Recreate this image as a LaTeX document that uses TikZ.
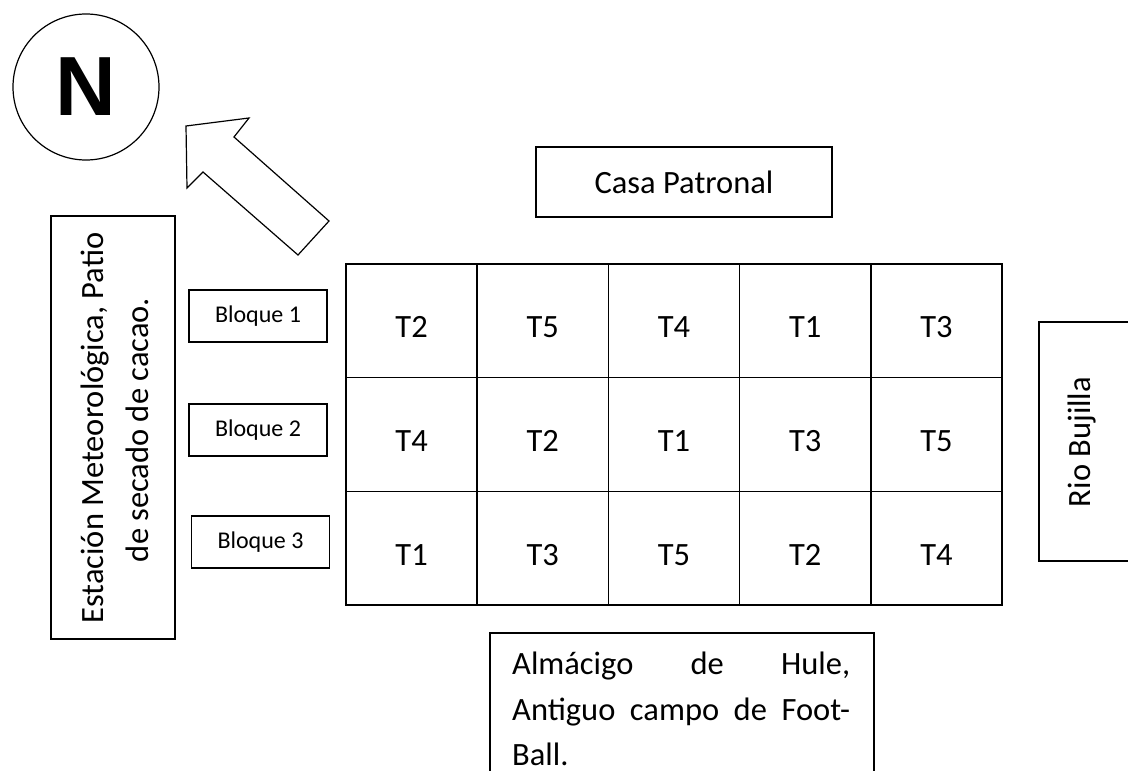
\documentclass[tikz,border=0pt]{standalone}
\usepackage{fontspec}
\setmainfont{Carlito}
\newfontfamily\arialfont{Liberation Sans}

\tikzset{
  box/.style={draw, line width=1.3pt},
  tag/.style={font=\fontsize{32.5}{38}\selectfont, inner sep=0pt},
  blocktag/.style={font=\fontsize{24}{28}\selectfont},
}

\begin{document}
\begin{tikzpicture}[x=1pt, y=-1pt]
    \useasboundingbox (0,0) rectangle (1128,771);

    % north mark and arrow
    \node[draw, circle, line width=1.2pt, minimum size=146pt, inner sep=0pt,
          font=\arialfont\bfseries\fontsize{84}{84}\selectfont] (north) at (86,87) {N};
    \draw[line width=1.2pt, line join=miter] (186,126) -- (249,118) -- (234,137) -- (329,221)
        -- (298,255) -- (203,172) -- (187,188) -- cycle;

    % buildings around the field
    \node[box, minimum width=296pt, minimum height=70pt, tag] (casa) at (684,182) {Casa Patronal};
    \draw[box] (51,216) rectangle (175,639);
    \node[tag, rotate=90, anchor=base] (estacionA) at (103,428) {Estación Meteorológica, Patio};
    \node[tag, rotate=90, anchor=base] (estacionB) at (148,430) {de secado de cacao.};
    \draw[box] (1140,322) -- (1039,322) -- (1039,561) -- (1140,561);
    \node[tag, rotate=90, anchor=base] (rio) at (1090,442) {Rio Bujilla};
    \draw[box] (490,790) -- (490,633) -- (874,633) -- (874,790);
    \node[tag, anchor=base west] (alm1) at (512,674) {\makebox[338pt][s]{Almácigo de Hule,}};
    \node[tag, anchor=base west] (alm2) at (512,720) {\makebox[338pt][s]{Antiguo campo de Foot-}};
    \node[tag, anchor=base west] (alm3) at (512,765) {Ball.};

    % blocks
    \node[box, minimum width=138pt, minimum height=52pt, blocktag] (b1) at (258,316) {Bloque 1};
    \node[box, minimum width=138pt, minimum height=52pt, blocktag] (b2) at (258,430) {Bloque 2};
    \node[box, minimum width=138pt, minimum height=52pt, blocktag] (b3) at (260.5,542) {Bloque 3};

    % plots
    \foreach \k in {0,...,5}
        \draw[line width=1.6pt] ({346+131.2*\k},264) -- ({346+131.2*\k},605);
    \foreach \k in {0,...,3}
        \draw[line width=1.6pt] (345,{264+113.67*\k}) -- (1003,{264+113.67*\k});
    \foreach \names [count=\row] in {{T2,T5,T4,T1,T3},{T4,T2,T1,T3,T5},{T1,T3,T5,T2,T4}}
        \foreach \t [count=\col] in \names
            \node[tag, anchor=base] (t\row\col) at ({346+131.2*(\col-0.5)},{264+113.67*(\row-0.5)+17}) {\t};
\end{tikzpicture}
\end{document}
